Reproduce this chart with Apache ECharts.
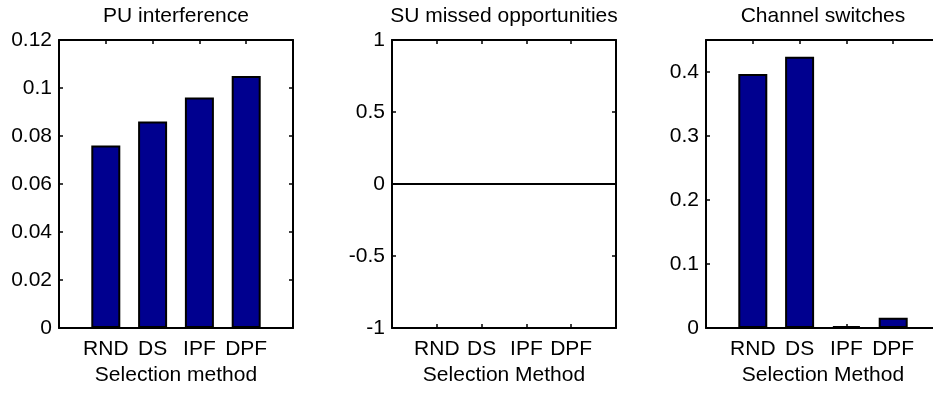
<!DOCTYPE html>
<html>
<head>
<meta charset="utf-8">
<script src="https://cdn.jsdelivr.net/npm/echarts@6/dist/echarts.min.js"></script>
<style>
html,body{margin:0;padding:0;background:#fff;overflow:hidden;width:933px;height:393px;}
#wrap{width:933px;height:393px;overflow:hidden;position:relative;}
#chart{width:950px;height:393px;position:absolute;left:0;top:0;}
</style>
</head>
<body>
<div id="wrap"><div id="chart"></div></div>
<script>
// ---- data ----
const categories = ['RND', 'DS', 'IPF', 'DPF'];
const catPositions = [1, 2, 3, 4];
const puInterference = [0.076, 0.086, 0.096, 0.105];
const suMissedOpportunities = [0, 0, 0, 0];
const channelSwitches = [0.397, 0.424, 0.003, 0.016];

const panelTitles = ['PU interference', 'SU missed opportunities', 'Channel switches'];
const xAxisNames = ['Selection method', 'Selection Method', 'Selection Method'];
const yMins = [0, -1, 0];
const yMaxs = [0.12, 1, 0.45];
const yIntervals = [0.02, 0.5, 0.1];
const panelSeries = [puInterference, suMissedOpportunities, channelSwitches];

// ---- layout ----
const FONT = 'Liberation Sans, Arial, Helvetica, sans-serif';
const FS = 21;
const panels = [
  {left: 59, top: 40, width: 234, height: 288},
  {left: 392, top: 40, width: 224, height: 288},
  {left: 706, top: 40, width: 234, height: 288}
];

const grids = [], xAxes = [], yAxes = [], series = [], titles = [];
const lineStyle = {color: '#000', width: 2};

panels.forEach((p, i) => {
  grids.push({left: p.left, top: p.top, width: p.width, height: p.height, containLabel: false});
  titles.push({
    text: panelTitles[i],
    left: p.left + p.width / 2,
    textAlign: 'center',
    top: 6,
    padding: 0,
    textStyle: {fontFamily: FONT, fontSize: FS, fontWeight: 'normal', color: '#000'}
  });
  xAxes.push({
    type: 'value', gridIndex: i, position: 'bottom', min: 0, max: 5, interval: 1,
    axisLine: {show: true, onZero: false, lineStyle: lineStyle},
    axisTick: {show: true, inside: true, length: 4, lineStyle: {color: '#000', width: 1.5}},
    axisLabel: {
      show: true, margin: 11, color: '#000', fontFamily: FONT, fontSize: FS,
      formatter: v => { const k = catPositions.indexOf(v); return k >= 0 ? categories[k] : ''; }
    },
    splitLine: {show: false},
    name: xAxisNames[i], nameLocation: 'middle', nameGap: 33,
    nameTextStyle: {color: '#000', fontFamily: FONT, fontSize: FS}
  });
  xAxes.push({
    type: 'value', gridIndex: i, position: 'top', min: 0, max: 5, interval: 1,
    axisLine: {show: true, onZero: false, lineStyle: lineStyle},
    axisTick: {show: true, inside: true, length: 4, lineStyle: {color: '#000', width: 1.5}},
    axisLabel: {show: false}, splitLine: {show: false}
  });
  yAxes.push({
    type: 'value', gridIndex: i, position: 'left', min: yMins[i], max: yMaxs[i], interval: yIntervals[i],
    axisLine: {show: true, onZero: false, lineStyle: lineStyle},
    axisTick: {show: true, inside: true, length: 4, lineStyle: {color: '#000', width: 1.5}},
    axisLabel: {show: true, margin: 7, color: '#000', fontFamily: FONT, fontSize: FS, showMaxLabel: i !== 2},
    splitLine: {show: false}
  });
  yAxes.push({
    type: 'value', gridIndex: i, position: 'right', min: yMins[i], max: yMaxs[i], interval: yIntervals[i],
    axisLine: {show: true, onZero: false, lineStyle: lineStyle},
    axisTick: {show: true, inside: true, length: 4, lineStyle: {color: '#000', width: 1.5}},
    axisLabel: {show: false}, splitLine: {show: false}
  });

  const s = {
    type: 'bar',
    xAxisIndex: i * 2,
    yAxisIndex: i * 2,
    barWidth: 29,
    data: panelSeries[i].map((v, k) => [catPositions[k], v]),
    itemStyle: {color: '#00008F', borderColor: '#000', borderWidth: 2},
    animation: false,
    silent: true
  };
  if (i === 1) {
    s.markLine = {
      silent: true, symbol: 'none', label: {show: false},
      lineStyle: {color: '#000', width: 2, type: 'solid'},
      data: [{yAxis: 0}]
    };
  }
  series.push(s);
});

const chart = echarts.init(document.getElementById('chart'), null, {renderer: 'canvas'});
chart.setOption({
  animation: false,
  backgroundColor: '#fff',
  title: titles,
  grid: grids,
  xAxis: xAxes,
  yAxis: yAxes,
  series: series
});
</script>
</body>
</html>
